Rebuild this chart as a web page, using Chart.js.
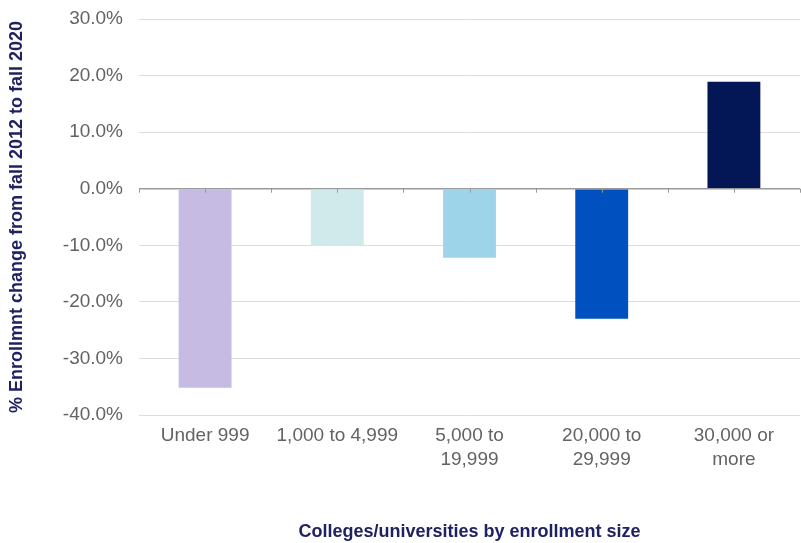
<!DOCTYPE html>
<html>
<head>
<meta charset="utf-8">
<script src="https://cdn.jsdelivr.net/npm/chart.js@4"></script>
<style>
html,body{margin:0;padding:0;background:#fff;}
#wrap{width:801px;height:543px;position:relative;}
</style>
</head>
<body>
<div id="wrap"><canvas id="c" width="801" height="543"></canvas></div>
<script>
const categories = [
  "Under 999",
  "1,000 to 4,999",
  ["5,000 to", "19,999"],
  ["20,000 to", "29,999"],
  ["30,000 or", "more"]
];
const changeValues = [-35.2, -10.1, -12.2, -23.0, 18.9];
const barColors = ["#c6bbe3", "#d0e9ea", "#9dd4ea", "#0050c0", "#031757"];
const yTickMin = -40, yTickMax = 30, yTickStep = 10;
const yTitle = "% Enrollmnt change from fall 2012 to fall 2020";
const xTitle = "Colleges/universities by enrollment size";

const tickMarks = {
  id: 'tickMarks',
  afterDatasetsDraw(chart) {
    const x = chart.scales.x, y = chart.scales.y;
    const ctx = chart.ctx;
    const y0 = y.getPixelForValue(0);
    ctx.save();
    ctx.strokeStyle = '#999';
    ctx.lineWidth = 1;
    for (let i = 0; i <= categories.length * 2; i++) {
      const px = Math.round(x.getPixelForValue(-0.5 + i / 2)) + 0.5;
      ctx.beginPath();
      ctx.moveTo(px, y0);
      ctx.lineTo(px, y0 + 4);
      ctx.stroke();
    }
    ctx.restore();
  }
};

const FONT = '"Liberation Sans", Arial, sans-serif';

new Chart(document.getElementById('c'), {
  type: 'bar',
  data: {
    labels: categories,
    datasets: [{
      data: changeValues,
      backgroundColor: barColors,
      barPercentage: 0.8,
      categoryPercentage: 0.5
    }]
  },
  options: {
    responsive: false,
    animation: false,
    layout: { padding: { top: 19, right: 1, left: 0, bottom: 0 } },
    plugins: { legend: { display: false }, tooltip: { enabled: false } },
    scales: {
      x: {
        grid: { display: false, drawTicks: false },
        border: { display: false },
        ticks: {
          color: '#636363',
          font: { family: FONT, size: 19, lineHeight: 1.25 },
          maxRotation: 0,
          autoSkip: false,
          padding: 9
        },
        title: {
          display: true,
          text: xTitle,
          color: '#1f2261',
          font: { family: FONT, size: 18, weight: 'bold' },
          padding: { top: 40, bottom: 0 }
        },
        afterFit(s) { s.height = 128; s.paddingLeft = 0; s.paddingRight = 0; }
      },
      y: {
        min: yTickMin,
        max: yTickMax,
        grid: {
          drawTicks: false,
          color: (c) => c.tick && c.tick.value === 0 ? '#9a9a9a' : '#dcdcdc',
          lineWidth: (c) => c.tick && c.tick.value === 0 ? 1.5 : 1
        },
        border: { display: false },
        ticks: {
          stepSize: yTickStep,
          color: '#636363',
          font: { family: FONT, size: 19 },
          padding: 16,
          callback: (v) => v.toFixed(1) + '%'
        },
        title: {
          display: true,
          text: yTitle,
          color: '#1f2261',
          font: { family: FONT, size: 18, weight: 'bold' },
          padding: { top: 6, bottom: 0 }
        },
        afterFit(s) { s.width = 139; s.paddingTop = 0; s.paddingBottom = 0; }
      }
    }
  },
  plugins: [tickMarks]
});
</script>
</body>
</html>
